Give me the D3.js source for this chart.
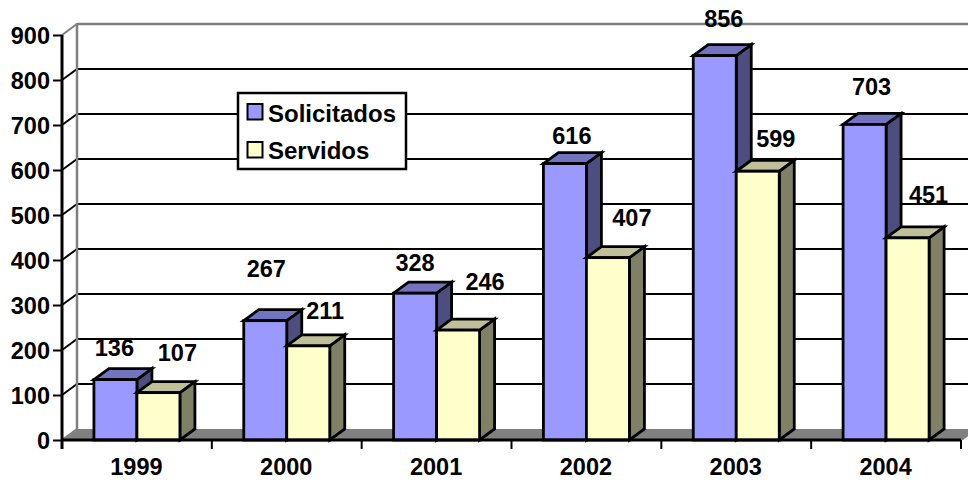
<!DOCTYPE html>
<html><head><meta charset="utf-8">
<script src="https://cdn.jsdelivr.net/npm/d3@7"></script>
<style>html,body{margin:0;padding:0;background:#fff}svg{display:block}text{font-family:"Liberation Sans",Arial,sans-serif;font-weight:bold;fill:#000}</style>
</head><body><div id="c"></div>
<script>
const categories = ["1999","2000","2001","2002","2003","2004"];
const seriesNames = ["Solicitados","Servidos"];
const solicitados = [136,267,328,616,856,703];
const servidos = [107,211,246,407,599,451];
const yTicks = [0,100,200,300,400,500,600,700,800,900];
// hand-placed label displacement from the top centre of each bar
const labelShiftS = [[-1,-23],[1,-43],[0,-21],[7,-19],[9,-28],[7,-29]];
const labelShiftV = [[19,-31],[17,-26],[27,-39],[24,-31],[18,-23],[21,-34]];

const W=968,H=482,fontSize=23.5,legendFont=24;
const depthX=15,depthY=11;
const svg=d3.select("#c").append("svg").attr("width",W).attr("height",H);
const y=d3.scaleLinear().domain([0,900]).range([440,35]);
const x=d3.scaleBand().domain(categories).range([62,961]).paddingInner(0).paddingOuter(0);
const inner=d3.scaleBand().domain(seriesNames).range([0,86]);
const barLeft=c=>x(c)+(x.bandwidth()-86)/2;

// floor
svg.append("polygon").attr("fill","#808080")
  .attr("points",[[62,y(0)],[62+depthX,y(0)-depthY],[W+10,y(0)-depthY],[W+10-depthX,y(0)]].join(" "));
// gridlines on back wall
svg.selectAll("line.grid").data(yTicks.filter(d=>d>0)).join("line")
  .attr("x1",62+depthX).attr("x2",W).attr("y1",d=>y(d)-depthY).attr("y2",d=>y(d)-depthY)
  .attr("stroke",d=>d===900?"#808080":"#000").attr("stroke-width",d=>d===900?2.5:2);
svg.selectAll("line.side").data(yTicks.filter(d=>d>0)).join("line")
  .attr("x1",62).attr("x2",62+depthX).attr("y1",d=>y(d)).attr("y2",d=>y(d)-depthY)
  .attr("stroke",d=>d===900?"#808080":"#000").attr("stroke-width",2);
svg.append("line").attr("x1",62).attr("x2",62+depthX).attr("y1",y(0)).attr("y2",y(0)-depthY).attr("stroke","#808080").attr("stroke-width",2);
// back wall left edge
svg.append("line").attr("x1",62+depthX).attr("x2",62+depthX).attr("y1",y(900)-depthY-1).attr("y2",y(0)-depthY)
  .attr("stroke","#808080").attr("stroke-width",2.5);

// bars
const styles=[{f:"#9999FF",t:"#7373BF",s:"#4D4D80"},{f:"#FFFFCC",t:"#BFBF99",s:"#808066"}];
function drawBar(g,x0,w,yTop,st){
  const yb=y(0);
  g.append("polygon").attr("points",[[x0+w,yTop],[x0+w+depthX,yTop-depthY],[x0+w+depthX,yb-depthY],[x0+w,yb]].join(" ")).attr("fill",st.s);
  g.append("polygon").attr("points",[[x0,yTop],[x0+depthX,yTop-depthY],[x0+w+depthX,yTop-depthY],[x0+w,yTop]].join(" ")).attr("fill",st.t);
  g.append("rect").attr("x",x0).attr("y",yTop).attr("width",w).attr("height",yb-yTop).attr("fill",st.f);
  g.selectAll("*").attr("stroke","#000").attr("stroke-width",2.8).attr("stroke-linejoin","miter");
}
const bars=svg.append("g");
const barNudge=0.8;
categories.forEach((c,i)=>{
  drawBar(bars.append("g"),barLeft(c)+inner(seriesNames[0]),inner.bandwidth(),y(solicitados[i])+barNudge,styles[0]);
  drawBar(bars.append("g"),barLeft(c)+inner(seriesNames[1]),inner.bandwidth(),y(servidos[i])+barNudge,styles[1]);
});

// axes
const yAxis=d3.axisLeft(y).tickValues(yTicks).tickSize(9).tickPadding(3).tickFormat(d3.format("d"));
const ga=svg.append("g").attr("transform","translate(62,0)").call(yAxis);
ga.selectAll("text").attr("font-size",fontSize).attr("dy","0.36em");
ga.select(".domain").attr("stroke","#000").attr("stroke-width",3).attr("d",`M0,${y(900)}V${y(0)+9}`);
ga.selectAll(".tick line").attr("stroke","#000").attr("stroke-width",2);
const xAxis=d3.axisBottom(x).tickSize(0).tickPadding(18);
const gx=svg.append("g").attr("transform",`translate(0,${y(0)})`).call(xAxis);
gx.select(".domain").attr("stroke","#000").attr("stroke-width",3).attr("d",`M62,0H961`);
gx.selectAll("text").attr("font-size",fontSize).attr("dy","0.71em").attr("dx",-0.5);
gx.selectAll("line.sep").data(d3.range(categories.length+1)).join("line").attr("class","sep")
  .attr("x1",i=>62+i*x.bandwidth()).attr("x2",i=>62+i*x.bandwidth()).attr("y1",0).attr("y2",9)
  .attr("stroke","#000").attr("stroke-width",2);

// data labels
const labels=svg.append("g").attr("text-anchor","middle").attr("font-size",fontSize);
categories.forEach((c,i)=>{
  const w=inner.bandwidth();
  [[solicitados,labelShiftS,0],[servidos,labelShiftV,1]].forEach(([vals,sh,k])=>{
    labels.append("text")
      .attr("x",barLeft(c)+inner(seriesNames[k])+w/2+sh[i][0])
      .attr("y",y(vals[i])+sh[i][1]).text(vals[i]);
  });
});

// legend
const lg=svg.append("g").attr("transform","translate(238,93)");
lg.append("rect").attr("width",168).attr("height",76).attr("fill","#fff").attr("stroke","#000").attr("stroke-width",2.5);
seriesNames.forEach((n,i)=>{
  const yy=11+i*38;
  lg.append("rect").attr("x",9.5).attr("y",yy).attr("width",15).attr("height",15.5).attr("fill",styles[i].f).attr("stroke","#000").attr("stroke-width",2);
  lg.append("text").attr("x",30).attr("y",yy+(i?17:18)).attr("font-size",legendFont).text(n);
});
</script></body></html>
